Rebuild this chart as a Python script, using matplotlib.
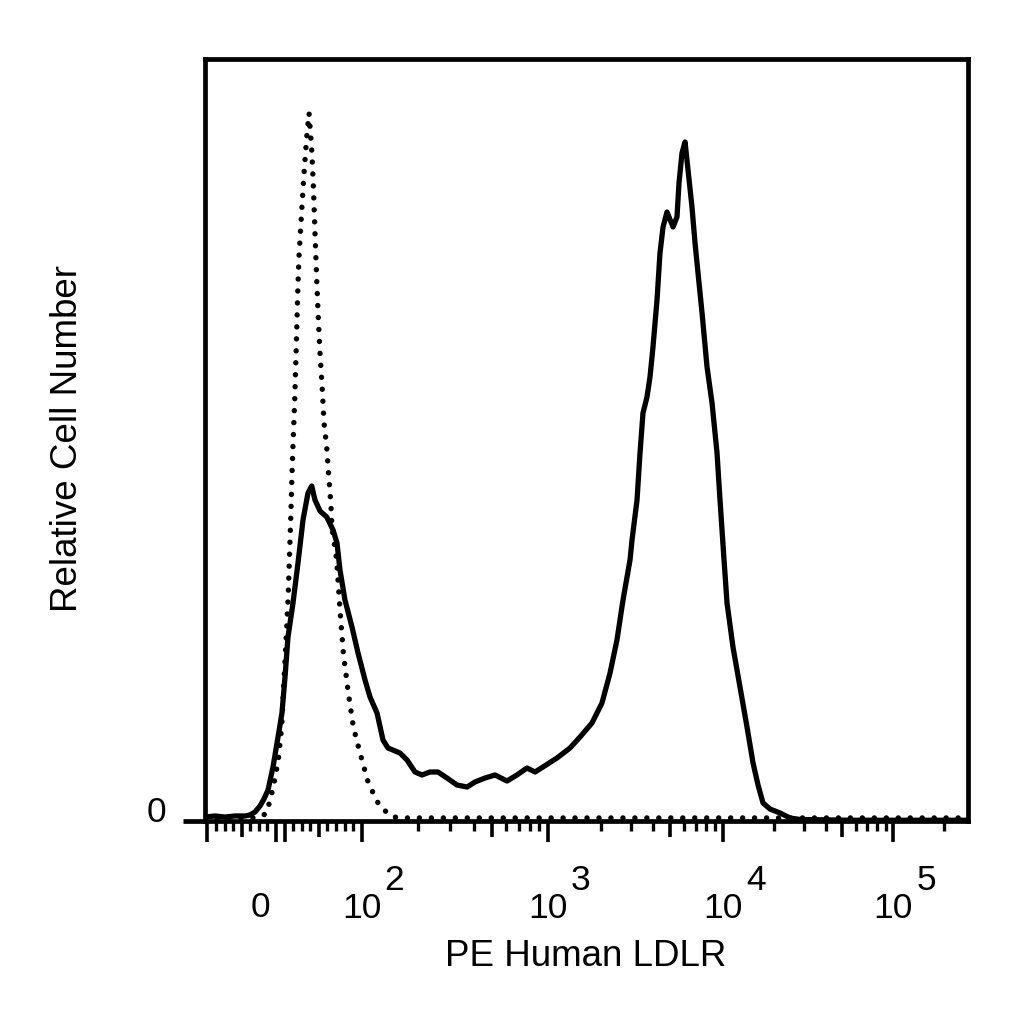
import numpy as np
import matplotlib
matplotlib.use("Agg")
import matplotlib.pyplot as plt
from matplotlib.transforms import blended_transform_factory, offset_copy

plt.rcParams['font.family'] = ['Liberation Sans', 'DejaVu Sans']

# ---------------- data (x in display channels 0-1024, y in % of axis height) ----------------
solid_ch = [0.7, 14.1, 27.5, 40.9, 54.3, 61.0, 67.7, 74.4, 79.8, 85.2, 91.9, 98.6, 103.9, 108.0,
            112.0, 118.7, 125.4, 132.1, 138.8, 143.8, 148.2, 154.9, 163.9, 172.4, 177.7, 181.7,
            188.4, 197.8, 205.9, 215.3, 222.0, 231.4, 239.4, 246.1, 262.2, 271.6, 282.3, 291.7,
            302.4, 313.2, 325.2, 338.7, 352.1, 362.8, 376.2, 389.6, 405.7, 419.1, 432.5, 443.3,
            454.0, 472.8, 490.2, 503.6, 519.7, 533.1, 543.9, 553.2, 561.3, 570.7, 573.4, 580.1,
            584.1, 588.1, 593.5, 597.5, 601.5, 606.9, 610.9, 615.0, 620.3, 628.4, 633.7, 636.4,
            640.4, 644.5, 648.5, 653.8, 657.9, 661.9, 667.3, 674.0, 680.7, 687.4, 691.4, 694.1,
            696.8, 700.8, 708.8, 718.2, 727.6, 735.7, 742.4, 749.1, 758.5, 771.9, 785.3, 798.7,
            865.8, 1024.0]
solid_y = [0.52, 0.66, 0.52, 0.66, 0.66, 0.79, 1.18, 1.97, 2.89, 4.07, 7.09, 11.02, 14.17, 18.90,
           24.15, 28.61, 33.86, 39.50, 43.04, 43.96, 42.13, 40.68, 39.90, 38.19, 36.48, 32.94,
           29.00, 25.46, 22.05, 18.50, 16.27, 14.17, 10.63, 9.58, 8.92, 8.01, 6.43, 6.04,
           6.43, 6.43, 5.64, 4.72, 4.46, 5.12, 5.64, 6.04, 5.25, 6.04, 6.96, 6.43,
           7.09, 8.27, 9.58, 11.02, 12.86, 15.49, 19.42, 23.75, 29.00, 34.25, 36.88, 42.13,
           48.29, 53.54, 55.64, 58.27, 62.20, 68.37, 74.54, 77.95, 79.92, 77.95, 79.27, 83.73,
           87.66, 89.11, 85.43, 80.58, 75.85, 71.92, 66.67, 59.58, 54.86, 48.29, 42.13, 38.19,
           34.25, 28.61, 22.83, 17.59, 12.34, 7.61, 4.72, 2.36, 1.57, 1.05, 0.39, 0.20,
           0.10, 0.10]

dotted_ch = [0.7, 67.7, 77.1, 83.4, 92.3, 99.0, 103.5, 105.7, 110.3, 112.4, 114.7, 116.0, 117.4,
             119.1, 121.0, 122.3, 123.7, 125.0, 126.7, 130.4, 133.5, 137.1, 140.2, 143.8, 145.9,
             148.2, 150.5, 152.6, 154.9, 158.0, 160.3, 163.9, 166.0, 167.4, 169.7, 171.0, 177.3,
             181.7, 186.2, 192.9, 199.6, 208.6, 219.7, 235.4, 253.2, 271.2, 1024.0]
dotted_y = [0.40, 0.40, 0.66, 1.05, 4.46, 8.01, 12.34, 16.80, 25.46, 29.92, 36.88, 40.81, 45.67,
            50.39, 55.25, 59.58, 64.44, 69.29, 74.02, 80.18, 85.04, 89.76, 92.91, 88.06, 83.73,
            77.17, 71.00, 66.14, 61.42, 56.56, 52.23, 49.08, 46.06, 44.36, 41.21, 38.45, 34.25,
            27.69, 22.05, 16.80, 12.34, 8.92, 4.99, 1.84, 0.52, 0.40, 0.40]

# axis: intensity values of ticks
major_vals = [-80, 0, 10, 100, 1e3, 1e4, 1e5]
medium_vals = [-40, 50, 500, 5e3, 5e4]
minor_vals = ([-70, -60, -50, -30, -20, -10, 20, 30, 40, 60, 70, 80, 90] +
              [m * 10 ** k for k in (2, 3, 4) for m in range(2, 10) if m != 5] + [2e5])
label_vals = [0, 100, 1e3, 1e4, 1e5]
label_exps = [None, "2", "3", "4", "5"]

# channel of intensity (biexponential-like display: linear near zero, log above 100)
CH_ANCHOR_LOG = [2, 3, 4, 5, 6]
CH_ANCHOR_POS = [210.9, 460.3, 695.8, 923.8, 1151.8]
CH_ZERO = 95.9


def chan(v):
    v = np.asarray(v, dtype=float)
    lin = CH_ZERO + v * (CH_ANCHOR_POS[0] - CH_ZERO) / 100.0
    lg = np.interp(np.log10(np.maximum(v, 100.0)), CH_ANCHOR_LOG, CH_ANCHOR_POS)
    return np.where(v <= 100, lin, lg)


fig = plt.figure(figsize=(10.24, 10.24), dpi=100)
ax = fig.add_axes([204.5 / 1024, 203 / 1024, (968 - 204.5) / 1024, (821 - 59) / 1024])

ax.plot(dotted_ch, dotted_y, color='black', lw=3.9, linestyle=(0, (0.01, 2.2)),
        dash_capstyle='round', solid_capstyle='round', zorder=3)
ax.plot(solid_ch, solid_y, color='black', lw=3.8, solid_joinstyle='round', zorder=4)

ax.set_xlim(0, 1024)
ax.set_ylim(0, 100)

for sp in ax.spines.values():
    sp.set_linewidth(3.4)
    sp.set_zorder(5)

ax.set_xticks(chan(major_vals))
ax.set_xticks(chan(minor_vals), minor=True)
ax.tick_params(axis='x', which='major', direction='out', length=15, width=2.6, labelbottom=False)
ax.tick_params(axis='x', which='minor', direction='out', length=7, width=2.4)
ax.set_xticklabels([])

sec = ax.secondary_xaxis('bottom')
sec.set_xticks(chan(medium_vals))
sec.tick_params(axis='x', direction='out', length=11.5, width=2.6, labelbottom=False)
sec.spines['bottom'].set_visible(False)

ax.set_yticks([0])
ax.set_yticklabels([])
ax.tick_params(axis='y', direction='out', length=16, width=3.4)

# x tick labels
trans = blended_transform_factory(ax.transData, fig.transFigure)
for v, e in zip(label_vals, label_exps):
    xc = float(chan(v))
    if e is None:
        t = offset_copy(trans, fig=fig, x=-15.5, y=0, units='dots')
        ax.text(xc, (1024 - 917) / 1024, "0", transform=t, ha='center', va='baseline', fontsize=25.5)
    else:
        ax.text(xc, (1024 - 918) / 1024, "10", transform=trans, ha='center', va='baseline', fontsize=25.5)
        t = offset_copy(trans, fig=fig, x=23, y=0, units='dots')
        ax.text(xc, (1024 - 890) / 1024, e, transform=t, ha='left', va='baseline', fontsize=25.5)

# y tick label
ax.annotate("0", xy=(0, 0), xycoords=('axes fraction', 'data'), xytext=(-38, -1),
            textcoords='offset pixels', ha='right', va='baseline', fontsize=25.5)

fig.text(586 / 1024, (1024 - 957) / 1024, "PE Human LDLR", ha='center', va='center', fontsize=26.5)
fig.text(68 / 1024, (1024 - 438) / 1024, "Relative Cell Number", ha='center', va='center',
         rotation=90, fontsize=26.5)

fig.savefig("out.png", dpi=100)
